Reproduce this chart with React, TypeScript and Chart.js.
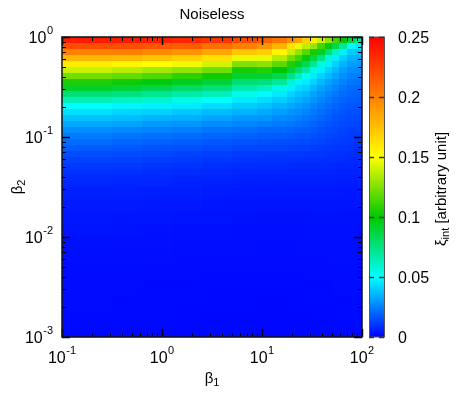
import React, { useEffect, useRef } from 'react';
import { Chart, registerables } from 'chart.js';

Chart.register(...registerables);

const FONT = "'Liberation Sans', Arial, Helvetica, sans-serif";

const chartTitle = 'Noiseless';
const xAxisSymbol = 'β';
const xAxisIndex = '1';
const yAxisSymbol = 'β';
const yAxisIndex = '2';
const cbSymbol = 'ξ';
const cbIndex = 'int';
const cbUnit = ' [arbitrary unit]';

const xMajorTicks = [0.1, 1, 10, 100];
const xTickExponents = ['-1', '0', '1', '2'];
const yMajorTicks = [0.001, 0.01, 0.1, 1];
const yTickExponents = ['-3', '-2', '-1', '0'];
const cbTicks = [0, 0.05, 0.1, 0.15, 0.2, 0.25];
const cbTickLabels = ['0', '0.05', '0.1', '0.15', '0.2', '0.25'];

// column edges along beta1 (left -> right)
const beta1Edges = [
  0.1, 0.3162, 0.631, 1.2589, 2.5119, 5.0119, 8.9125, 12.589, 17.783,
  21.135, 25.119, 29.854, 35.481, 42.17, 50.119, 59.566, 70.795, 84.14, 100,
];

// row edges along beta2 (top -> bottom)
const beta2Edges = [
  1, 0.87096, 0.75858, 0.66069, 0.57544, 0.50119, 0.43652, 0.38019, 0.33113,
  0.2884, 0.25119, 0.21878, 0.19055, 0.16596, 0.14454, 0.12589, 0.10965,
  0.095499, 0.083176, 0.072444, 0.063096, 0.054954, 0.047863, 0.041687,
  0.036308, 0.031623, 0.023714, 0.017783, 0.013335, 0.01, 0.0074989,
  0.0056234, 0.004217, 0.0031623, 0.0023714, 0.0017783, 0.0013335, 0.001,
];

// xi_int values: one row per beta2 band (top -> bottom), one entry per beta1 band
const xiInt = [
  [0.24, 0.24, 0.238, 0.235, 0.23, 0.222, 0.212, 0.205, 0.195, 0.185, 0.17, 0.155, 0.14, 0.128, 0.112, 0.1, 0.088, 0.07],
  [0.22, 0.22, 0.217, 0.214, 0.207, 0.2, 0.192, 0.18, 0.161, 0.147, 0.137, 0.13, 0.113, 0.097, 0.085, 0.07, 0.049, 0.045],
  [0.2, 0.2, 0.196, 0.192, 0.185, 0.173, 0.169, 0.154, 0.139, 0.129, 0.117, 0.104, 0.091, 0.077, 0.062, 0.047, 0.04, 0.038],
  [0.179, 0.177, 0.173, 0.169, 0.162, 0.146, 0.146, 0.135, 0.122, 0.112, 0.0975, 0.087, 0.074, 0.057, 0.047, 0.04, 0.035, 0.033],
  [0.157, 0.154, 0.15, 0.147, 0.141, 0.125, 0.127, 0.118, 0.106, 0.094, 0.083, 0.071, 0.056, 0.047, 0.041, 0.035, 0.031, 0.03],
  [0.139, 0.136, 0.132, 0.128, 0.122, 0.104, 0.107, 0.1, 0.089, 0.079, 0.068, 0.055, 0.047, 0.041, 0.036, 0.031, 0.028, 0.027],
  [0.122, 0.119, 0.115, 0.109, 0.103, 0.09, 0.09, 0.085, 0.074, 0.063, 0.052, 0.046, 0.041, 0.036, 0.032, 0.028, 0.0255, 0.0245],
  [0.106, 0.103, 0.098, 0.0935, 0.089, 0.078, 0.076, 0.07, 0.058, 0.048, 0.046, 0.041, 0.036, 0.032, 0.029, 0.0255, 0.023, 0.0225],
  [0.091, 0.089, 0.085, 0.08, 0.076, 0.066, 0.062, 0.055, 0.047, 0.043, 0.041, 0.036, 0.032, 0.029, 0.026, 0.023, 0.021, 0.0205],
  [0.077, 0.075, 0.072, 0.067, 0.063, 0.054, 0.049, 0.046, 0.042, 0.038, 0.036, 0.032, 0.029, 0.026, 0.0235, 0.021, 0.0195, 0.019],
  [0.064, 0.061, 0.059, 0.054, 0.05, 0.046, 0.043, 0.04, 0.037, 0.034, 0.032, 0.029, 0.026, 0.0235, 0.0213, 0.0193, 0.018, 0.0175],
  [0.05, 0.048, 0.047, 0.046, 0.043, 0.04, 0.038, 0.035, 0.033, 0.031, 0.029, 0.026, 0.0235, 0.0215, 0.0195, 0.0178, 0.0167, 0.0163],
  [0.044, 0.042, 0.041, 0.039, 0.037, 0.035, 0.033, 0.031, 0.029, 0.028, 0.026, 0.024, 0.0215, 0.0197, 0.018, 0.0164, 0.0155, 0.0152],
  [0.038, 0.037, 0.035, 0.034, 0.032, 0.03, 0.029, 0.027, 0.026, 0.025, 0.023, 0.0215, 0.0195, 0.018, 0.0165, 0.0152, 0.0144, 0.0141],
  [0.033, 0.032, 0.03, 0.029, 0.027, 0.026, 0.025, 0.024, 0.023, 0.022, 0.021, 0.0193, 0.0177, 0.0165, 0.0152, 0.0141, 0.0134, 0.0131],
  [0.028, 0.027, 0.026, 0.025, 0.023, 0.022, 0.021, 0.021, 0.02, 0.019, 0.0185, 0.0173, 0.016, 0.015, 0.014, 0.0131, 0.0124, 0.0122],
  [0.024, 0.023, 0.022, 0.021, 0.02, 0.019, 0.018, 0.018, 0.0175, 0.0168, 0.0163, 0.0155, 0.0145, 0.0136, 0.0128, 0.0121, 0.0115, 0.0113],
  [0.021, 0.02, 0.019, 0.018, 0.017, 0.016, 0.0155, 0.0155, 0.015, 0.0145, 0.0143, 0.0138, 0.013, 0.0123, 0.0117, 0.0111, 0.0106, 0.0104],
  [0.018, 0.017, 0.016, 0.0155, 0.0145, 0.0137, 0.0132, 0.0133, 0.013, 0.0126, 0.0125, 0.0121, 0.0115, 0.011, 0.0106, 0.0101, 0.0097, 0.0095],
  [0.015, 0.0145, 0.014, 0.013, 0.0123, 0.0116, 0.0113, 0.0114, 0.0112, 0.0109, 0.0108, 0.0106, 0.0102, 0.0098, 0.0095, 0.0091, 0.0088, 0.0086],
  [0.013, 0.0125, 0.012, 0.0112, 0.0105, 0.0099, 0.0097, 0.0098, 0.0096, 0.0094, 0.0094, 0.0093, 0.009, 0.0087, 0.0085, 0.0082, 0.0079, 0.0078],
  [0.011, 0.0107, 0.01, 0.0097, 0.009, 0.0085, 0.0083, 0.0084, 0.0083, 0.0081, 0.0081, 0.0081, 0.0079, 0.0077, 0.0075, 0.0073, 0.0071, 0.007],
  [0.0095, 0.0092, 0.0088, 0.0084, 0.0078, 0.0073, 0.0072, 0.0073, 0.0072, 0.0071, 0.0071, 0.0071, 0.0069, 0.0068, 0.0066, 0.0065, 0.0063, 0.0062],
  [0.0082, 0.008, 0.0077, 0.0074, 0.0068, 0.0064, 0.0063, 0.0064, 0.0063, 0.0062, 0.0062, 0.0062, 0.0061, 0.006, 0.0058, 0.0057, 0.0056, 0.0055],
  [0.0072, 0.007, 0.0068, 0.0065, 0.006, 0.0056, 0.0055, 0.0056, 0.0055, 0.0054, 0.0055, 0.0055, 0.0054, 0.0053, 0.0052, 0.0051, 0.005, 0.0049],
  [0.006, 0.0058, 0.0056, 0.0054, 0.005, 0.0047, 0.0046, 0.0046, 0.0046, 0.0046, 0.0046, 0.0046, 0.0046, 0.0046, 0.0045, 0.0044, 0.0043, 0.0043],
  [0.005, 0.0048, 0.0046, 0.0044, 0.0041, 0.0039, 0.0038, 0.0038, 0.0038, 0.0038, 0.0038, 0.0039, 0.0039, 0.0039, 0.0039, 0.0038, 0.0038, 0.0038],
  [0.0042, 0.0041, 0.0039, 0.0037, 0.0035, 0.0033, 0.0032, 0.0032, 0.0032, 0.0032, 0.0033, 0.0033, 0.0033, 0.0034, 0.0034, 0.0034, 0.0034, 0.0034],
  [0.0036, 0.0035, 0.0033, 0.0032, 0.003, 0.0028, 0.0028, 0.0028, 0.0028, 0.0028, 0.0029, 0.0029, 0.0029, 0.003, 0.003, 0.003, 0.0031, 0.0031],
  [0.0031, 0.003, 0.0029, 0.0028, 0.0026, 0.0025, 0.0024, 0.0024, 0.0024, 0.0025, 0.0025, 0.0026, 0.0026, 0.0027, 0.0027, 0.0028, 0.0028, 0.0028],
  [0.0027, 0.0026, 0.0025, 0.0024, 0.0023, 0.0022, 0.0021, 0.0021, 0.0022, 0.0022, 0.0023, 0.0023, 0.0024, 0.0024, 0.0025, 0.0025, 0.0026, 0.0026],
  [0.0024, 0.0023, 0.0022, 0.0021, 0.002, 0.0019, 0.0019, 0.0019, 0.002, 0.002, 0.0021, 0.0021, 0.0022, 0.0022, 0.0023, 0.0023, 0.0024, 0.0024],
  [0.0022, 0.0021, 0.002, 0.0019, 0.0018, 0.0017, 0.0017, 0.0017, 0.0018, 0.0018, 0.0019, 0.0019, 0.002, 0.002, 0.0021, 0.0021, 0.0022, 0.0022],
  [0.002, 0.0019, 0.0018, 0.0017, 0.0016, 0.0016, 0.0015, 0.0015, 0.0016, 0.0016, 0.0017, 0.0017, 0.0018, 0.0018, 0.0019, 0.0019, 0.002, 0.002],
  [0.0019, 0.0018, 0.0017, 0.0016, 0.0015, 0.0015, 0.0014, 0.0014, 0.0015, 0.0015, 0.0015, 0.0016, 0.0016, 0.0017, 0.0017, 0.0018, 0.0018, 0.0018],
  [0.0018, 0.0017, 0.0016, 0.0015, 0.0014, 0.0014, 0.0013, 0.0013, 0.0014, 0.0014, 0.0014, 0.0015, 0.0015, 0.0015, 0.0016, 0.0016, 0.0017, 0.0017],
  [0.0017, 0.0016, 0.0015, 0.0014, 0.0013, 0.0013, 0.0012, 0.0012, 0.0013, 0.0013, 0.0013, 0.0014, 0.0014, 0.0014, 0.0015, 0.0015, 0.0016, 0.0016],
];

// jet-like colour map
const colorStops = [0, 0.025, 0.05, 0.075, 0.1, 0.125, 0.15, 0.175, 0.2, 0.225, 0.25];
const colorRGB = [
  [0, 0, 255], [0, 128, 255], [0, 255, 255], [0, 225, 128], [0, 200, 0],
  [128, 225, 0], [255, 255, 0], [255, 192, 0], [255, 128, 0], [255, 64, 0], [255, 0, 0],
];

function colorFor(v: number): string {
  if (v <= colorStops[0]) return `rgb(${colorRGB[0].join(',')})`;
  for (let i = 1; i < colorStops.length; i++) {
    if (v <= colorStops[i]) {
      const t = (v - colorStops[i - 1]) / (colorStops[i] - colorStops[i - 1]);
      const a = colorRGB[i - 1], b = colorRGB[i];
      const c = a.map((q, k) => Math.round(q + (b[k] - q) * t));
      return `rgb(${c.join(',')})`;
    }
  }
  return `rgb(${colorRGB[colorRGB.length - 1].join(',')})`;
}

function drawPower(ctx: CanvasRenderingContext2D, base: string, exp: string, x: number, y: number, align: 'center' | 'right') {
  ctx.font = `16px ${FONT}`;
  const wb = ctx.measureText(base).width;
  ctx.font = `11px ${FONT}`;
  const we = ctx.measureText(exp).width;
  const total = wb + we + 0.5;
  const start = align === 'center' ? x - total / 2 : x - total;
  ctx.textAlign = 'left';
  ctx.textBaseline = 'alphabetic';
  ctx.font = `16px ${FONT}`;
  ctx.fillText(base, start, y);
  ctx.font = `11px ${FONT}`;
  ctx.fillText(exp, start + wb + 0.5, y - 9);
}

function drawSubscripted(ctx: CanvasRenderingContext2D, main: string, sub: string, rest: string, x: number, y: number, size: number) {
  ctx.font = `${size}px ${FONT}`;
  const wm = ctx.measureText(main).width;
  const wr = ctx.measureText(rest).width;
  ctx.font = `${Math.round(size * 0.7)}px ${FONT}`;
  const ws = ctx.measureText(sub).width;
  const total = wm + ws + wr;
  let cx = x - total / 2;
  ctx.textAlign = 'left';
  ctx.textBaseline = 'alphabetic';
  ctx.font = `${size}px ${FONT}`;
  ctx.fillText(main, cx, y);
  cx += wm;
  ctx.font = `${Math.round(size * 0.7)}px ${FONT}`;
  ctx.fillText(sub, cx, y + 3);
  cx += ws;
  ctx.font = `${size}px ${FONT}`;
  ctx.fillText(rest, cx, y);
}

const heatmapPlugin = {
  id: 'heatmapPlugin',
  beforeDatasetsDraw(chart: any) {
    const { ctx, chartArea: a, scales } = chart;
    const xs = scales.x, ys = scales.y;
    ctx.save();
    ctx.beginPath();
    ctx.rect(a.left, a.top, a.right - a.left, a.bottom - a.top);
    ctx.clip();
    for (let r = 0; r < xiInt.length; r++) {
      const y0 = Math.round(ys.getPixelForValue(beta2Edges[r]));
      const y1 = Math.round(ys.getPixelForValue(beta2Edges[r + 1]));
      for (let c = 0; c < beta1Edges.length - 1; c++) {
        const x0 = Math.round(xs.getPixelForValue(beta1Edges[c]));
        const x1 = Math.round(xs.getPixelForValue(beta1Edges[c + 1]));
        ctx.fillStyle = colorFor(xiInt[r][c]);
        ctx.fillRect(x0, y0, x1 - x0, y1 - y0);
      }
    }
    ctx.restore();
  },
  afterDraw(chart: any) {
    const { ctx, chartArea: a, scales } = chart;
    const xs = scales.x, ys = scales.y, cb = scales.cb;
    ctx.save();

    // ticks (inward, mirrored)
    const minors: number[] = [];
    const minorsY: number[] = [];
    for (let d = -1; d < 2; d++) for (let m = 2; m <= 9; m++) minors.push(m * Math.pow(10, d));
    for (let d = -3; d < 0; d++) for (let m = 2; m <= 9; m++) minorsY.push(m * Math.pow(10, d));
    ctx.strokeStyle = '#000';
    const tickX = (v: number, len: number, w: number) => {
      const px = Math.round(xs.getPixelForValue(v)) + 0.5;
      ctx.lineWidth = w;
      ctx.beginPath();
      ctx.moveTo(px, a.bottom); ctx.lineTo(px, a.bottom - len);
      ctx.moveTo(px, a.top); ctx.lineTo(px, a.top + len);
      ctx.stroke();
    };
    const tickY = (v: number, len: number, w: number) => {
      const py = Math.round(ys.getPixelForValue(v)) + 0.5;
      ctx.lineWidth = w;
      ctx.beginPath();
      ctx.moveTo(a.left, py); ctx.lineTo(a.left + len, py);
      ctx.moveTo(a.right, py); ctx.lineTo(a.right - len, py);
      ctx.stroke();
    };
    minors.forEach((v) => tickX(v, 4, 1));
    xMajorTicks.forEach((v) => tickX(v, 8, 1.5));
    minorsY.forEach((v) => tickY(v, 4, 1));
    yMajorTicks.forEach((v) => tickY(v, 8, 1.5));

    // frame
    ctx.lineWidth = 1.5;
    ctx.strokeStyle = '#111';
    ctx.strokeRect(a.left, a.top, a.right - a.left, a.bottom - a.top);

    // tick labels
    ctx.fillStyle = '#000';
    xMajorTicks.forEach((v, i) => {
      drawPower(ctx, '10', xTickExponents[i], xs.getPixelForValue(v), a.bottom + 26, 'center');
    });
    yMajorTicks.forEach((v, i) => {
      drawPower(ctx, '10', yTickExponents[i], a.left - 9, ys.getPixelForValue(v) + 6, 'right');
    });

    // colour bar
    const cbL = a.right + 7;
    const cbW = 15;
    const cTop = cb.getPixelForValue(cbTicks[cbTicks.length - 1]);
    const cBot = cb.getPixelForValue(cbTicks[0]);
    const grad = ctx.createLinearGradient(0, cBot, 0, cTop);
    colorStops.forEach((s, i) => {
      const f = (cb.getPixelForValue(s) - cBot) / (cTop - cBot);
      grad.addColorStop(Math.min(1, Math.max(0, f)), `rgb(${colorRGB[i].join(',')})`);
    });
    ctx.fillStyle = grad;
    ctx.fillRect(cbL, cTop, cbW, cBot - cTop);
    ctx.strokeStyle = '#555';
    ctx.lineWidth = 1;
    ctx.strokeRect(cbL + 0.5, cTop, cbW, cBot - cTop);
    ctx.strokeStyle = '#333';
    ctx.lineWidth = 1.5;
    cbTicks.forEach((v) => {
      const py = Math.round(cb.getPixelForValue(v)) + 0.5;
      ctx.beginPath();
      ctx.moveTo(cbL, py); ctx.lineTo(cbL + 5, py);
      ctx.moveTo(cbL + cbW, py); ctx.lineTo(cbL + cbW - 5, py);
      ctx.stroke();
    });
    ctx.fillStyle = '#000';
    ctx.font = `16px ${FONT}`;
    ctx.textAlign = 'left';
    ctx.textBaseline = 'alphabetic';
    cbTicks.forEach((v, i) => {
      ctx.fillText(cbTickLabels[i], a.right + 36, cb.getPixelForValue(v) + 6);
    });

    // title
    ctx.font = `15px ${FONT}`;
    ctx.textAlign = 'center';
    ctx.fillText(chartTitle, (a.left + a.right) / 2, a.top - 18);

    // x axis title
    drawSubscripted(ctx, xAxisSymbol, xAxisIndex, '', (a.left + a.right) / 2, a.bottom + 46, 15);

    // y axis title (rotated)
    ctx.save();
    ctx.translate(a.left - 40, (a.top + a.bottom) / 2);
    ctx.rotate(-Math.PI / 2);
    drawSubscripted(ctx, yAxisSymbol, yAxisIndex, '', 0, 0, 15);
    ctx.restore();

    // colour bar title (rotated)
    ctx.save();
    ctx.translate(a.right + 84, (a.top + a.bottom) / 2 + 2);
    ctx.rotate(-Math.PI / 2);
    drawSubscripted(ctx, cbSymbol, cbIndex, cbUnit, 0, 0, 15);
    ctx.restore();

    ctx.restore();
  },
};

export default function App() {
  const ref = useRef<HTMLCanvasElement>(null);
  useEffect(() => {
    if (!ref.current) return;
    const chart = new Chart(ref.current, {
      type: 'scatter',
      data: { datasets: [{ data: [], pointRadius: 0 }] },
      options: {
        responsive: false,
        animation: false,
        layout: { padding: { left: 54, top: 29, right: 89, bottom: 51 } },
        plugins: { legend: { display: false }, tooltip: { enabled: false }, title: { display: false } },
        scales: {
          x: { type: 'logarithmic', min: 0.1, max: 100, display: false },
          y: { type: 'logarithmic', min: 0.001, max: 1, display: false },
          cb: { type: 'linear', axis: 'y', position: 'right', min: 0, max: 0.25, display: false },
        },
      },
      plugins: [heatmapPlugin],
    } as any);
    return () => chart.destroy();
  }, []);
  return (
    <div style={{ width: 443, height: 380 }}>
      <canvas ref={ref} width={443} height={380} style={{ display: 'block' }} />
    </div>
  );
}
